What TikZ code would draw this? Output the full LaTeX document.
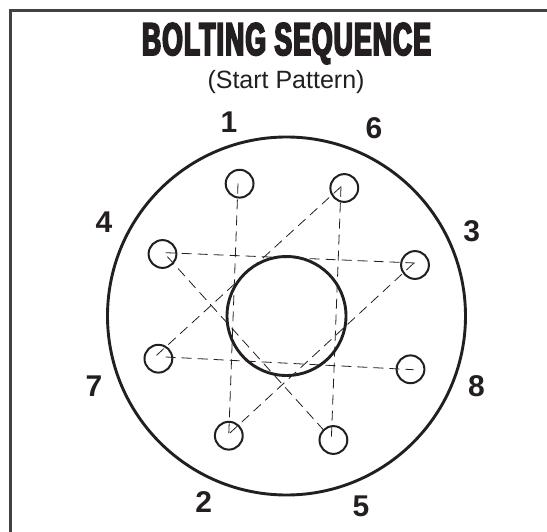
\documentclass[tikz,border=0pt]{standalone}
\usepackage{fontspec}
\setmainfont{Liberation Sans}
\newfontfamily\titlefont[FakeStretch=0.575,FakeBold=4,LetterSpace=2.5]{Liberation Sans Bold}
\definecolor{ink}{HTML}{231F20}
\tikzset{
  hole/.style={circle,draw=ink,line width=2pt,minimum size=27.8pt,inner sep=0pt},
  bolt/.style={draw=ink,line width=0.8pt,dash pattern=on 10pt off 6pt},
  num/.style={text=ink,font=\fontsize{30}{32}\selectfont\bfseries,inner sep=0pt},
  ring/.style={draw=ink,line width=2.9pt},
  frameline/.style={draw=ink!85,line width=3.2pt}
}
\begin{document}
\begin{tikzpicture}[x=1pt,y=-1pt]
\useasboundingbox (0,0) rectangle (547,532);
\fill[white] (0,0) rectangle (547,532);
\coordinate (fa) at (10.5,532);
\coordinate (fb) at (10.5,10.6);
\coordinate (fc) at (547,10.6);
\draw[frameline] (fa) -- (fb) -- (fc);
\node[text=ink,inner sep=0pt] (title) at (286.5,43.5) {\titlefont\fontsize{46}{48}\selectfont BOLTING SEQUENCE};
\node[text=ink,inner sep=0pt] (sub) at (286,82) {\fontsize{25}{28}\selectfont (Start Pattern)};
\node[ring,circle,minimum size=358pt,inner sep=0pt] (outer) at (286.5,316) {};
\node[ring,circle,minimum size=119pt,inner sep=0pt] (inner) at (286.5,316) {};
\node[hole] (h1) at (239.6,183.7) {};
\node[hole] (h6) at (344.3,188) {};
\node[hole] (h4) at (162.5,254) {};
\node[hole] (h3) at (415,265) {};
\node[hole] (h7) at (158.4,358.7) {};
\node[hole] (h8) at (410.5,369.3) {};
\node[hole] (h2) at (228.8,435.7) {};
\node[hole] (h5) at (333.4,440) {};
\coordinate (e1) at (238,183.5);
\coordinate (e2) at (228.8,434);
\coordinate (e6) at (341,186.7);
\coordinate (e5) at (331.4,437.7);
\coordinate (e4) at (165.7,252.7);
\coordinate (e3) at (415,263);
\coordinate (e7) at (165.7,357);
\coordinate (e8) at (413.7,369.7);
\coordinate (e7b) at (155,356.7);
\coordinate (e3b) at (413.7,263.3);
\coordinate (e2b) at (228.5,434.3);
\coordinate (e4b) at (167.4,256.7);
\coordinate (e5b) at (326,432.7);
\draw[bolt] (e1) -- (e2);
\draw[bolt] (e6) -- (e5);
\draw[bolt] (e4) -- (e3);
\draw[bolt] (e7) -- (e8);
\draw[bolt] (e6) -- (e7b);
\draw[bolt] (e3b) -- (e2b);
\draw[bolt] (e4b) -- (e5b);
\node[num] (n1) at (229,122) {1};
\node[num] (n6) at (374,128) {6};
\node[num] (n4) at (104,222) {4};
\node[num] (n3) at (471.6,231) {3};
\node[num] (n7) at (94,386) {7};
\node[num] (n8) at (476.5,386) {8};
\node[num] (n2) at (203.7,502) {2};
\node[num] (n5) at (361,506) {5};
\end{tikzpicture}
\end{document}
